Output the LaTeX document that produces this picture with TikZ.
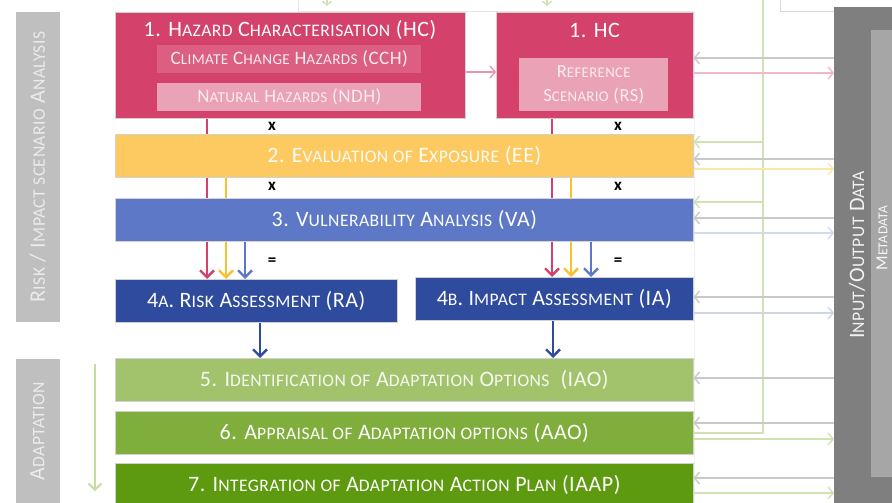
\documentclass[tikz,border=0pt]{standalone}
\usepackage{fontspec}
\setmainfont{Carlito}[LetterSpace=2.5]
\usetikzlibrary{arrows.meta}
\pgfdeclarelayer{bg}
\pgfsetlayers{bg,main}
\definecolor{hccol}{HTML}{D4416A}
\definecolor{cchcol}{HTML}{DC5E80}
\definecolor{ndhcol}{HTML}{EAA2B7}
\definecolor{eecol}{HTML}{FDC961}
\definecolor{vacol}{HTML}{5C78C6}
\definecolor{racol}{HTML}{2F4B9E}
\definecolor{iaocol}{HTML}{A3C26C}
\definecolor{aaocol}{HTML}{80AE3C}
\definecolor{iaapcol}{HTML}{5E9A10}
\definecolor{yelarr}{HTML}{FBC02D}
\definecolor{sidegray}{HTML}{BFBFBF}
\definecolor{iogray}{HTML}{7F7F7F}
\definecolor{metagray}{HTML}{A6A6A6}
\definecolor{thgray}{HTML}{C9C9C9}
\definecolor{thpink}{HTML}{EFB9C8}
\definecolor{thyel}{HTML}{FBE7A6}
\definecolor{thblue}{HTML}{D3DAEE}
\definecolor{thgreen}{HTML}{D0E1B3}
\newcommand\Sc[2]{#1{\fontsize{0.8em}{1em}\selectfont\MakeUppercase{#2}}}
\tikzset{
  box/.style={draw=black!18, line width=0.6pt, inner sep=0pt, anchor=north west},
  ttl/.style={text=white, font=\fontsize{22}{24}\selectfont, inner sep=0pt},
  sub/.style={text=white!90!hccol, font=\fontsize{19}{21}\selectfont, inner sep=0pt, align=center},
  mainarr/.style={line width=2.6pt, -{Straight Barb[length=7pt,width=14pt,line width=2.4pt]}},
  thin/.style={line width=1.6pt, -{Straight Barb[length=5pt,width=12pt,line width=1.4pt]}},
  op/.style={font=\bfseries\fontsize{17}{18}\selectfont, inner sep=0pt},
  sidetxt/.style={rotate=90, text=black!8, font=\fontsize{22}{24}\selectfont, inner sep=0pt}
}
\begin{document}
\begin{tikzpicture}[x=1pt,y=-1pt]
\useasboundingbox (0,0) rectangle (892,503);
\begin{pgfonlayer}{bg}
\fill[white] (0,0) rectangle (892,503);
\end{pgfonlayer}
% top faint boxes
\draw[black!10, line width=0.6pt] (298,-1) -- (298,11) -- (693,11);
\draw[black!15, line width=0.6pt] (780,-1) -- (780,11) -- (893,11);
\draw[black!6, line width=0.6pt] (694,11) -- (694,503);
\coordinate (ta) at (327,0);
\coordinate (tb) at (547,0);
\draw[thgreen, line width=1.6pt, -{Straight Barb[length=4pt,width=9pt,line width=1.4pt]}] (ta) -- ++(0,6);
\draw[thgreen, line width=1.6pt, -{Straight Barb[length=4pt,width=9pt,line width=1.4pt]}] (tb) -- ++(0,6);

% side labels
\node[box, fill=sidegray, draw=black!25, minimum width=43pt, minimum height=309pt] (riskbox) at (16,12) {};
\node[sidetxt] (risktxt) at (riskbox.center) {\Sc{R}{isk} / \Sc{I}{mpact scenario} \Sc{A}{nalysis}};
\node[box, fill=sidegray, draw=black!25, minimum width=43pt, minimum height=150pt] (adbox) at (16,359) {};
\node[sidetxt, anchor=center] (adtxt) at (37.5,431) {\Sc{A}{daptation}};
\coordinate (adtop) at (95,364);
\coordinate (adbot) at (95,491);
\draw[thgreen!80!iaocol, line width=2.2pt, -{Straight Barb[length=6pt,width=13pt,line width=2pt]}] (adtop) -- (adbot);

% right I/O
\node[box, fill=iogray, draw=none, minimum width=70pt, minimum height=510pt] (io) at (834,7) {};
\node[box, fill=metagray, draw=none, minimum width=30pt, minimum height=447pt] (meta) at (871,30) {};
\node[sidetxt, text=black!5] (iotxt) at (857,255) {\Sc{I}{nput}/\Sc{O}{utput} \Sc{D}{ata}};
\node[sidetxt, text=black!3, font=\fontsize{17}{19}\selectfont] (metatxt) at (882,238) {\Sc{M}{etadata}};

% main boxes
\node[box, fill=hccol, minimum width=350pt, minimum height=106pt] (hc) at (115,12) {};
\node[ttl] (hct) at (290,30) {1. \Sc{H}{azard} \Sc{C}{haracterisation} (HC)};
\node[box, fill=cchcol, draw=none, minimum width=264pt, minimum height=28pt] (cch) at (157,45) {};
\node[sub] (ccht) at (cch.center) {\Sc{C}{limate} \Sc{C}{hange} \Sc{H}{azards} (CCH)};
\node[box, fill=ndhcol, draw=none, minimum width=264pt, minimum height=28pt] (ndh) at (157,83) {};
\node[sub] (ndht) at (ndh.center) {\Sc{N}{atural} \Sc{H}{azards} (NDH)};
\node[box, fill=hccol, minimum width=197pt, minimum height=106pt] (hc2) at (496,12) {};
\node[ttl] (hc2t) at (594.5,30) {1. HC};
\node[box, fill=ndhcol, draw=none, minimum width=149pt, minimum height=53pt] (rs) at (519,58) {};
\node[sub, font=\fontsize{18.5}{24}\selectfont] (rst) at (rs.center) {\Sc{R}{eference}\\\Sc{S}{cenario} (RS)};

\node[box, fill=eecol, minimum width=578pt, minimum height=43pt] (ee) at (115,134) {};
\node[ttl, text=white!92!eecol] (eet) at (ee.center) {2. \Sc{E}{valuation of} \Sc{E}{xposure} (EE)};
\node[box, fill=vacol, minimum width=578pt, minimum height=43pt] (va) at (115,198) {};
\node[ttl] (vat) at (va.center) {3. \Sc{V}{ulnerability} \Sc{A}{nalysis} (VA)};
\node[box, fill=racol, minimum width=282pt, minimum height=43pt] (ra) at (115,279) {};
\node[ttl] (rat) at (ra.center) {4\Sc{}{a}. \Sc{R}{isk} \Sc{A}{ssessment} (RA)};
\node[box, fill=racol, minimum width=278pt, minimum height=43pt] (ia) at (415,277) {};
\node[ttl] (iat) at (ia.center) {4\Sc{}{b}. \Sc{I}{mpact} \Sc{A}{ssessment} (IA)};
\node[box, fill=iaocol, minimum width=578pt, minimum height=43pt] (iao) at (115,358) {};
\node[ttl, text=white!90!iaocol] (iaot) at (iao.center) {5. \Sc{I}{dentification of} \Sc{A}{daptation} \Sc{O}{ptions}\ \ (IAO)};
\node[box, fill=aaocol, minimum width=578pt, minimum height=43pt] (aao) at (115,411) {};
\node[ttl] (aaot) at (aao.center) {6. \Sc{A}{ppraisal of} \Sc{A}{daptation options} (AAO)};
\node[box, fill=iaapcol, minimum width=578pt, minimum height=44pt] (iaap) at (115,463) {};
\node[ttl] (iaapt) at (iaap.center) {7. \Sc{I}{ntegration of} \Sc{A}{daptation} \Sc{A}{ction} \Sc{P}{lan} (IAAP)};

% operators
\node[op] (x1) at (272,126) {x};
\node[op] (x2) at (618,126) {x};
\node[op] (x3) at (272,186) {x};
\node[op] (x4) at (618,186) {x};
\node[op] (e1) at (272,262) {=};
\node[op] (e2) at (618,262) {=};

% coloured arrows
\coordinate (lp) at (207,0);
\coordinate (ly) at (226,0);
\coordinate (lb) at (245,0);
\coordinate (rp) at (552,0);
\coordinate (ry) at (571,0);
\coordinate (rb) at (591,0);
\begin{pgfonlayer}{bg}
\draw[mainarr, hccol] (hc.south -| lp) -- (ra.north -| lp);
\draw[mainarr, yelarr] (ee.south -| ly) -- (ra.north -| ly);
\draw[mainarr, vacol] (va.south -| lb) -- (ra.north -| lb);
\draw[mainarr, hccol] (hc2.south -| rp) -- (ia.north -| rp);
\draw[mainarr, yelarr] (ee.south -| ry) -- (ia.north -| ry);
\draw[mainarr, vacol] (va.south -| rb) -- (ia.north -| rb);
\end{pgfonlayer}
\draw[mainarr, racol, line width=2pt] (ra.south -| 260,0) -- (iao.north -| 260,0);
\draw[mainarr, racol, line width=2pt] (ia.south -| 553,0) -- (iao.north -| 553,0);
\draw[thin, thpink!70!hccol, line width=2.2pt] (hc.east |- 0,72) -- (hc2.west |- 0,72);

% green feedback line
\coordinate (gv) at (763,-1);
\coordinate (gc) at (763,433);
\draw[thgreen, line width=1.4pt] (aao.east |- gc) -- (gc) -- (gv);
\draw[thin, thgreen] (gc |- 0,142) -- (ee.east |- 0,142);
\draw[thin, thgreen] (gc |- 0,202) -- (va.east |- 0,202);

% I/O arrows
\draw[thin, thgray] (io.west |- 0,58) -- (hc2.east |- 0,58);
\draw[thin, thpink] (hc2.east |- 0,73) -- (io.west |- 0,73);
\draw[thin, thgray] (io.west |- 0,159) -- (ee.east |- 0,159);
\draw[thin, thyel] (ee.east |- 0,169) -- (io.west |- 0,169);
\draw[thin, thgray] (io.west |- 0,218) -- (va.east |- 0,218);
\draw[thin, thblue] (va.east |- 0,233) -- (io.west |- 0,233);
\draw[thin, thgray] (io.west |- 0,297) -- (ia.east |- 0,297);
\draw[thin, thblue!70!thgray] (ia.east |- 0,313) -- (io.west |- 0,313);
\draw[thin, thgray] (io.west |- 0,378) -- (iao.east |- 0,378);
\draw[thin, thgray] (io.west |- 0,423) -- (aao.east |- 0,423);
\draw[thin, thgreen] (aao.east |- 0,439) -- (io.west |- 0,439);
\draw[thin, thgray] (io.west |- 0,478) -- (iaap.east |- 0,478);
\draw[thin, thgreen] (iaap.east |- 0,493) -- (io.west |- 0,493);
\end{tikzpicture}
\end{document}
